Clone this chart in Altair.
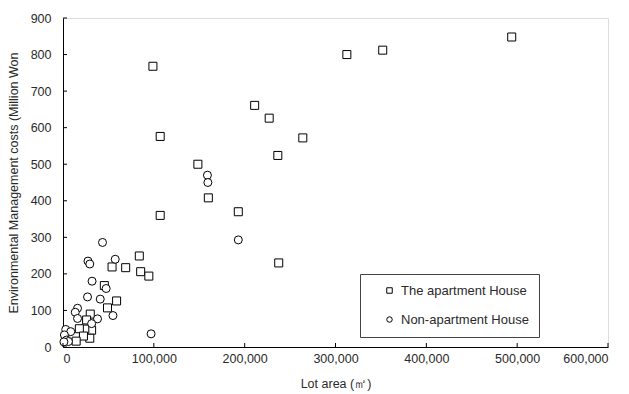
import altair as alt
import pandas as pd

apt_x = [99000, 107000, 211000, 227000, 312500, 352000, 494000, 264000, 236500,
         148500, 160000, 193000, 107000, 237500, 84000, 85500, 94500, 54000,
         69000, 45500, 59000, 49000, 30000, 26000, 31500, 24000, 18000, 29500,
         22500, 14500]
apt_y = [768, 576, 661, 626, 800, 812, 848, 572, 524,
         500, 408, 370, 360, 230, 249, 206, 194, 219,
         217, 168, 126, 107, 90, 74, 46, 49, 50, 24,
         30, 16]

non_x = [159000, 159500, 193000, 43500, 27500, 29500, 57500, 32000, 47500,
         27000, 41000, 55000, 97000, 16000, 13500, 16000, 38000, 31500,
         3000, 8500, 1500, 4000, 6000, 1000]
non_y = [470, 450, 293, 286, 235, 227, 240, 180, 160,
         137, 131, 86, 36, 106, 95, 78, 77, 64,
         48, 42, 33, 19, 15, 14]

series = ["The apartment House", "Non-apartment House"]
x_ticks = [0, 100000, 200000, 300000, 400000, 500000, 600000]
y_ticks = [0, 100, 200, 300, 400, 500, 600, 700, 800, 900]

W, H = 545, 329
FONT = "Liberation Sans"
TXT = "#2a2a2a"

df = pd.DataFrame({
    "x": apt_x + non_x,
    "y": apt_y + non_y,
    "type": [series[0]] * len(apt_x) + [series[1]] * len(non_x),
})

xscale = alt.Scale(domain=[0, 600000], nice=False)
yscale = alt.Scale(domain=[0, 900], nice=False)

x_axis = alt.Axis(values=x_ticks, format=",d", title="Lot area (㎡)",
                  ticks=False, labelPadding=5, titlePadding=13,
                  labelOverlap=False,
                  domainColor="black", labelFont=FONT, titleFont=FONT,
                  labelFontSize=12.5, titleFontSize=12.5, labelColor=TXT,
                  titleColor=TXT, titleFontWeight="normal", grid=False)
y_axis = alt.Axis(values=y_ticks, format="d",
                  title="Environmental Management costs (Million Won",
                  ticks=False, labelPadding=12, titlePadding=10,
                  labelOverlap=False,
                  domainColor="black", labelFont=FONT, titleFont=FONT,
                  labelFontSize=12.5, titleFontSize=12.5, labelColor=TXT,
                  titleColor=TXT, titleFontWeight="normal", grid=False)

points = alt.Chart(df).mark_point(filled=False, color="black", fill="white",
                                  strokeWidth=1, size=64, opacity=1, fillOpacity=1).encode(
    x=alt.X("x:Q", scale=xscale, axis=x_axis),
    y=alt.Y("y:Q", scale=yscale, axis=y_axis),
    shape=alt.Shape("type:N", scale=alt.Scale(domain=series, range=["square", "circle"]),
                    legend=alt.Legend(title=None, orient="none", legendX=297, legendY=256,
                                      strokeColor="#444444", fillColor="white", padding=10,
                                      symbolOffset=13, symbolSize=30,
                                      symbolStrokeWidth=1,
                                      labelFont=FONT, labelFontSize=13, labelColor=TXT,
                                      rowPadding=15, labelOffset=5)),
    order=alt.Order("type:N", sort="descending"),
)

xt = alt.Chart(pd.DataFrame({"v": x_ticks})).mark_rule(color="black", strokeWidth=1).encode(
    x=alt.X("v:Q", scale=xscale, axis=x_axis), y=alt.value(H), y2=alt.value(H - 4))
yt = alt.Chart(pd.DataFrame({"v": y_ticks})).mark_rule(color="black", strokeWidth=1).encode(
    y=alt.Y("v:Q", scale=yscale, axis=y_axis), x=alt.value(0), x2=alt.value(4))

chart = alt.layer(points, xt, yt).properties(
    width=W, height=H,
    padding={"left": 55, "top": 10, "right": 10, "bottom": 45},
    autosize=alt.AutoSizeParams(type="none"),
).configure_view(stroke=None).configure(background="white")

chart.save("out.html", embed_options={"renderer": "svg", "actions": False})
